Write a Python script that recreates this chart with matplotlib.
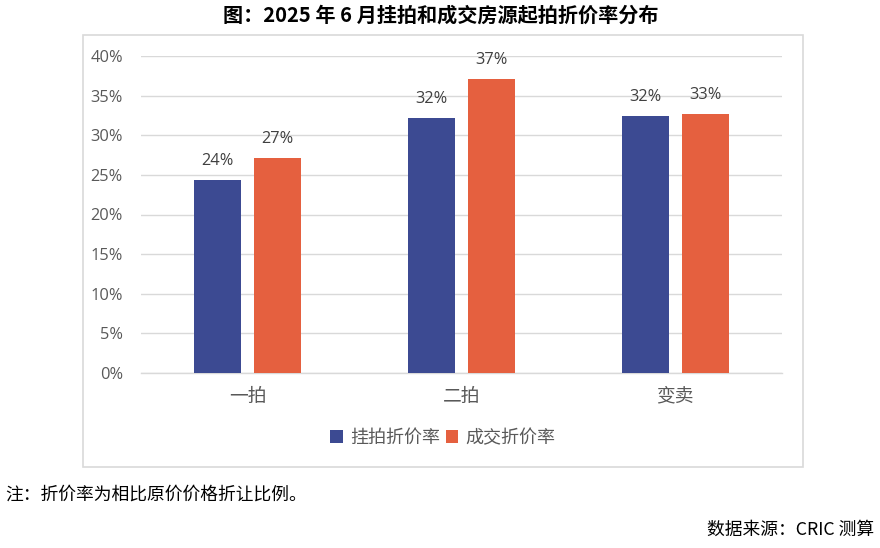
import matplotlib.pyplot as plt
import matplotlib.patches as mpatches
import numpy as np

plt.rcParams['font.family'] = ['Noto Sans CJK SC', 'DejaVu Sans']

categories = ['一拍', '二拍', '变卖']
listed = [24.3, 32.2, 32.4]     # 挂拍折价率 (%)
traded = [27.1, 37.1, 32.7]     # 成交折价率 (%)
series_names = ['挂拍折价率', '成交折价率']

blue = '#3C4A92'
orange = '#E5603F'
grey = '#595959'

fig = plt.figure(figsize=(8.8, 5.48), dpi=100)

# chart frame
fig.patches.append(mpatches.Rectangle((83 / 880, 1 - 467 / 548), 720 / 880, 432 / 548,
                                      transform=fig.transFigure, fill=False,
                                      edgecolor='#D9D9D9', linewidth=1.2))

ax = fig.add_axes([141 / 880, 175 / 548, 641 / 880, 317 / 548])

x = np.arange(len(categories))
w = 0.22
b1 = ax.bar(x - 0.14, listed, w, color=blue, label=series_names[0], zorder=3)
b2 = ax.bar(x + 0.14, traded, w, color=orange, label=series_names[1], zorder=3)

for bars, vals in [(b1, listed), (b2, traded)]:
    for r, v in zip(bars, vals):
        ax.annotate(f'{v:.0f}%', (r.get_x() + r.get_width() / 2, v),
                    xytext=(0, 8), textcoords='offset points', ha='center', va='bottom',
                    fontsize=11.8, color='#404040', family=['Open Sans', 'DejaVu Sans'])

ax.set_xlim(-0.5, 2.5)
ax.set_ylim(0, 40)
ax.set_yticks(np.arange(0, 41, 5))
ax.set_yticklabels([f'{t}%' for t in range(0, 41, 5)], family=['Open Sans', 'DejaVu Sans'],
                   fontsize=11.8, color=grey)
ax.tick_params(axis='both', length=0)
ax.set_xticks(x)
ax.set_xticklabels(categories, fontsize=13.5, color=grey)
ax.tick_params(axis='y', pad=13)
ax.tick_params(axis='x', pad=9)
ax.grid(axis='y', color='#D9D9D9', linewidth=1, zorder=0)
for s in ['top', 'right', 'left']:
    ax.spines[s].set_visible(False)
ax.spines['bottom'].set_color('#D9D9D9')
ax.spines['bottom'].set_linewidth(1)

leg = fig.legend(loc='center', bbox_to_anchor=(443 / 880, 1 - 438 / 548), ncol=2, frameon=False,
                 fontsize=13, handlelength=0.7, handleheight=0.7, handletextpad=0.4,
                 columnspacing=0.3)
for t in leg.get_texts():
    t.set_color(grey)

fig.text(441 / 880, 1 - 15 / 548, '图：2025 年 6 月挂拍和成交房源起拍折价率分布', ha='center', va='center',
         fontsize=14.5, fontweight='bold', color='black')
fig.text(5 / 880, 1 - 495 / 548, '注：折价率为相比原价价格折让比例。', ha='left', va='center',
         fontsize=12.8, color='black')
fig.text(874 / 880, 1 - 530 / 548, '数据来源：CRIC 测算', ha='right', va='center',
         fontsize=12.8, color='black')

fig.savefig('out.png', dpi=100)
